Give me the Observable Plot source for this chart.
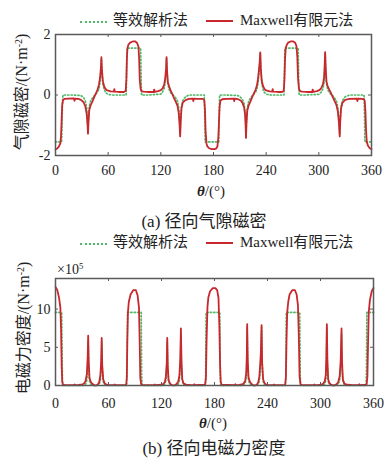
<!DOCTYPE html>
<html>
<head>
<meta charset="utf-8">
<script src="https://cdn.jsdelivr.net/npm/d3@7"></script>
<script src="https://cdn.jsdelivr.net/npm/@observablehq/plot@0.6"></script>
<style>
  html, body { margin: 0; padding: 0; background: #fff; }
  #wrap { position: relative; width: 386px; height: 462px; overflow: hidden; background: #fff;
          font-family: "Liberation Serif", "Noto Sans CJK SC", serif; color: #222; }
  .abs { position: absolute; white-space: nowrap; }
  .leg { font-size: 15px; line-height: 15px; }
  .swG { position: absolute; height: 0; border-top: 2px dotted #52b86a; }
  .swR { position: absolute; height: 0; border-top: 2.5px solid #c8282d; }
  .rot { transform: translate(-50%, -50%) rotate(-90deg); font-size: 16px; }
  .cap { transform: translate(-50%, -50%); font-size: 17px; }
  .xl { transform: translate(-50%, -50%); font-size: 15px; line-height: 15px; }
  sup { font-size: 0.62em; vertical-align: 0.55em; line-height: 0; }
</style>
</head>
<body>
<div id="wrap">
  <div id="p1" class="abs" style="left:0;top:0"></div>
  <div id="p2" class="abs" style="left:0;top:230px"></div>
</div>
<script>
// ---- Data ----
const xTicks = [0, 60, 120, 180, 240, 300, 360];
const yTicksB = [-2, 0, 2];
const yTicksF = [0, 5, 10];
const seriesNames = ["等效解析法", "Maxwell有限元法"];

// Maxwell FEM (red)
const thetaRed = [
  0, 2, 4, 5.5, 6.3, 7, 7.6, 8.5, 10, 15, 21, 21.6, 22.3, 26, 29, 32, 34, 35.5, 36.5, 37, 37.6, 38.5, 40, 42, 44,
  46, 48, 49.5, 50.8, 51.8, 52.3, 52.9, 54, 55.5, 57, 59, 63, 66.4, 67, 67.6, 72, 78, 80, 80.7, 81.3, 82, 83, 85, 88,
  91, 93, 94.5, 95.3, 96, 97, 98, 100, 105, 111.8, 112.4, 113, 117, 120, 122, 123.8, 125, 126, 126.5, 127.1, 128, 129.5, 131, 133,
  135, 137, 139, 140.3, 141.3, 142, 142.6, 143.5, 145, 148, 152, 156.4, 157, 157.6, 162, 168, 169.5, 170.3, 171, 172, 173, 175, 178,
  181, 183, 184.5, 185.5, 186.3, 187, 188, 190, 195, 203, 203.6, 204.2, 208, 211, 213, 214.8, 216, 216.6, 217, 217.6, 218.5, 220, 222, 224,
  226, 228, 229.5, 230.8, 231.8, 232.5, 233.3, 233.9, 235, 236.5, 238, 240, 244, 246.8, 247.4, 248, 253, 258, 260, 260.8, 261.5, 262.3, 263.5, 265, 268,
  271, 273, 274.5, 275.5, 276.3, 277.3, 278.5, 281, 286, 292.4, 293, 293.6, 298, 301, 303, 304.8, 306, 306.6, 307.2, 307.8, 308.7, 310, 312, 314,
  316, 318, 320, 321.7, 322.9, 323.8, 324.4, 325.3, 327, 330, 335, 343.3, 343.9, 344.5, 349, 351.5, 352.3, 353.1, 353.8, 354.6, 356, 358, 360
];
const bRed = [
  -1.80, -1.77, -1.70, -1.60, -1.35, -0.80, -0.35, -0.18, -0.13, -0.12, -0.11, -0.19, -0.12, -0.13, -0.16, -0.24, -0.38, -0.62, -0.98, -1.28, -0.88, -0.50, -0.34, -0.22, -0.08,
  0.05, 0.19, 0.34, 0.58, 0.92, 1.25, 0.82, 0.45, 0.28, 0.20, 0.15, 0.12, 0.11, 0.19, 0.11, 0.10, 0.10, 0.14, 0.50, 1.20, 1.55, 1.66, 1.73, 1.77,
  1.77, 1.72, 1.60, 1.20, 0.50, 0.20, 0.13, 0.11, 0.10, 0.10, 0.18, 0.10, 0.13, 0.16, 0.22, 0.34, 0.55, 0.88, 1.25, 0.80, 0.42, 0.28, 0.16, 0.04,
  -0.10, -0.22, -0.36, -0.58, -0.95, -1.37, -0.90, -0.45, -0.25, -0.17, -0.13, -0.12, -0.20, -0.12, -0.13, -0.13, -0.17, -0.50, -1.20, -1.60, -1.70, -1.76, -1.79,
  -1.79, -1.77, -1.70, -1.40, -0.85, -0.38, -0.18, -0.14, -0.13, -0.12, -0.20, -0.12, -0.14, -0.18, -0.26, -0.40, -0.66, -1.00, -1.42, -0.92, -0.52, -0.35, -0.22, -0.08,
  0.05, 0.18, 0.32, 0.55, 0.85, 1.05, 1.41, 0.88, 0.46, 0.29, 0.20, 0.15, 0.12, 0.11, 0.19, 0.11, 0.10, 0.10, 0.14, 0.50, 1.20, 1.55, 1.66, 1.73, 1.77,
  1.77, 1.73, 1.62, 1.25, 0.55, 0.22, 0.13, 0.11, 0.10, 0.10, 0.18, 0.10, 0.13, 0.17, 0.24, 0.37, 0.60, 0.95, 1.42, 0.90, 0.45, 0.29, 0.17, 0.05,
  -0.08, -0.20, -0.33, -0.55, -0.92, -1.37, -0.88, -0.45, -0.25, -0.16, -0.13, -0.12, -0.20, -0.12, -0.13, -0.14, -0.20, -0.55, -1.15, -1.55, -1.68, -1.76, -1.79
];
// radial electromagnetic force density, ×10^5 N·m^-2 (red)
const fRed = [
  12.9, 12.5, 11.5, 10.2, 7.3, 2.5, 0.49, 0.13, 0.07, 0.06, 0.05, 0.14, 0.06, 0.07, 0.10, 0.23, 0.57, 1.53, 3.82, 6.52, 3.08, 0.99, 0.46, 0.19, 0.03,
  0.01, 0.14, 0.46, 1.34, 3.37, 6.22, 2.68, 0.81, 0.31, 0.16, 0.09, 0.06, 0.05, 0.14, 0.05, 0.04, 0.04, 0.08, 0.99, 5.73, 9.56, 10.96, 11.91, 12.47,
  12.47, 11.77, 10.19, 5.73, 0.99, 0.16, 0.07, 0.05, 0.04, 0.04, 0.13, 0.04, 0.07, 0.10, 0.19, 0.46, 1.20, 3.08, 6.22, 2.55, 0.70, 0.31, 0.10, 0.01,
  0.04, 0.19, 0.52, 1.34, 3.59, 7.47, 3.22, 0.81, 0.25, 0.11, 0.07, 0.06, 0.16, 0.06, 0.07, 0.07, 0.11, 0.99, 5.73, 10.19, 11.50, 12.33, 12.75,
  12.75, 12.47, 11.50, 7.80, 2.87, 0.57, 0.13, 0.08, 0.07, 0.06, 0.16, 0.06, 0.08, 0.13, 0.27, 0.64, 1.73, 3.98, 8.02, 3.37, 1.08, 0.49, 0.19, 0.03,
  0.01, 0.13, 0.41, 1.20, 2.87, 4.39, 7.91, 3.08, 0.84, 0.33, 0.16, 0.09, 0.06, 0.05, 0.14, 0.05, 0.04, 0.04, 0.08, 0.99, 5.73, 9.56, 10.96, 11.91, 12.47,
  12.47, 11.91, 10.44, 6.22, 1.20, 0.19, 0.07, 0.05, 0.04, 0.04, 0.13, 0.04, 0.07, 0.11, 0.23, 0.54, 1.43, 3.59, 8.02, 3.22, 0.81, 0.33, 0.11, 0.01,
  0.03, 0.16, 0.43, 1.20, 3.37, 7.47, 3.08, 0.81, 0.25, 0.10, 0.07, 0.06, 0.16, 0.06, 0.07, 0.08, 0.16, 1.20, 5.26, 9.56, 11.23, 12.33, 12.75
];

// Equivalent analytical method (green)
const thetaGreen = [
  0, 7, 7.5, 8, 8.5, 20, 29, 32, 34, 35.5, 36.5, 37, 37.6, 38.5, 40, 42, 44,
  46, 48, 49.5, 50.8, 51.8, 52.3, 52.9, 54, 55.5, 57, 60, 65, 80.5, 81, 81.5, 88,
  97, 97.5, 98, 105, 120, 122, 123.8, 125, 126, 126.5, 127.1, 128, 129.5, 131, 133,
  135, 137, 139, 140.3, 141.3, 142, 142.6, 143.5, 145, 148, 152, 169.5, 170, 170.5, 178,
  186, 186.5, 187, 195, 208, 211, 213, 214.8, 216, 216.6, 217, 217.6, 218.5, 220, 222, 224,
  226, 228, 229.5, 230.8, 231.8, 232.5, 233.3, 233.9, 235, 236.5, 238, 241, 246, 260.3, 260.8, 261.3, 268,
  276.5, 277, 277.5, 285, 300, 303, 304.8, 306, 306.6, 307.2, 307.8, 308.7, 310, 312, 314,
  316, 318, 320, 321.7, 322.9, 323.8, 324.4, 325.3, 327, 330, 335, 351.5, 352, 352.5, 360
];
const bGreen = [
  -1.55, -1.55, -0.9, -0.2, 0, 0, -0.02, -0.08, -0.2, -0.42, -0.8, -1.22, -0.75, -0.38, -0.2, -0.1, -0.03,
  0.03, 0.1, 0.2, 0.42, 0.8, 1.2, 0.75, 0.36, 0.18, 0.08, 0.02, 0, 0, 0.6, 1.55, 1.55,
  1.55, 0.6, 0, 0, 0.03, 0.1, 0.22, 0.42, 0.8, 1.2, 0.75, 0.36, 0.18, 0.08, 0.02,
  -0.03, -0.1, -0.2, -0.42, -0.8, -1.3, -0.8, -0.38, -0.18, -0.06, 0, 0, -0.6, -1.55, -1.55,
  -1.55, -0.6, 0, 0, -0.02, -0.08, -0.15, -0.28, -0.55, -0.9, -1.38, -0.85, -0.42, -0.22, -0.1, -0.03,
  0.03, 0.1, 0.2, 0.4, 0.7, 0.95, 1.38, 0.85, 0.38, 0.18, 0.08, 0.02, 0, 0, 0.6, 1.55, 1.55,
  1.55, 0.6, 0, 0, 0.02, 0.1, 0.22, 0.42, 0.8, 1.38, 0.82, 0.38, 0.18, 0.08, 0.02,
  -0.03, -0.1, -0.2, -0.42, -0.8, -1.3, -0.8, -0.38, -0.18, -0.06, 0, 0, -0.6, -1.55, -1.55
];
const fGreen = [
  9.56, 9.56, 3.22, 0.16, 0, 0, 0, 0.03, 0.16, 0.70, 2.55, 5.92, 2.24, 0.57, 0.16, 0.04, 0,
  0, 0.04, 0.16, 0.70, 2.55, 5.73, 2.24, 0.52, 0.13, 0.03, 0, 0, 0, 1.43, 9.56, 9.56,
  9.56, 1.43, 0, 0, 0, 0.04, 0.19, 0.70, 2.55, 5.73, 2.24, 0.52, 0.13, 0.03, 0,
  0, 0.04, 0.16, 0.70, 2.55, 6.72, 2.55, 0.57, 0.13, 0.01, 0, 0, 1.43, 9.56, 9.56,
  9.56, 1.43, 0, 0, 0, 0.03, 0.09, 0.31, 1.20, 3.22, 7.58, 2.87, 0.70, 0.19, 0.04, 0,
  0, 0.04, 0.16, 0.64, 1.95, 3.59, 7.58, 2.87, 0.57, 0.13, 0.03, 0, 0, 0, 1.43, 9.56, 9.56,
  9.56, 1.43, 0, 0, 0, 0.04, 0.19, 0.70, 2.55, 7.58, 2.68, 0.57, 0.13, 0.03, 0,
  0, 0.04, 0.16, 0.70, 2.55, 6.72, 2.55, 0.57, 0.13, 0.01, 0, 0, 1.43, 9.56, 9.56
];

// ---- Build ----
const RED = "#c8282d", GREEN = "#52b86a", FRAME = "#5a5a5a";
const red = thetaRed.map((t, i) => ({t, b: bRed[i], f: fRed[i]}));
const green = thetaGreen.map((t, i) => ({t, b: bGreen[i], f: fGreen[i]}));
const font = {fontFamily: '"Liberation Serif", "Noto Sans CJK SC", serif', fontSize: "14px", color: "#222", background: "transparent", overflow: "visible"};

function chart({height, mt, mb, mr, yDomain, yTicks, key, padX}) {
  const fw = 386 - 55 - mr, fh = height - mt - mb, tl = 3;
  return Plot.plot({
    width: 386, height, marginLeft: 55, marginRight: mr, marginTop: mt, marginBottom: mb,
    style: font,
    x: {domain: [0, 360]},
    y: {domain: yDomain},
    marks: [
      Plot.line(green, {x: "t", y: key, stroke: GREEN, strokeWidth: 1.7, strokeDasharray: "1.2,2.2", strokeLinecap: "round"}),
      Plot.line(red, {x: "t", y: key, stroke: RED, strokeWidth: 1.8}),
      Plot.tickX(xTicks, {x: d => d, stroke: FRAME, insetTop: fh - tl}),
      Plot.tickX(xTicks, {x: d => d, stroke: FRAME, insetBottom: fh - tl}),
      Plot.tickY(yTicks, {y: d => d, stroke: FRAME, insetRight: fw - tl}),
      Plot.tickY(yTicks, {y: d => d, stroke: FRAME, insetLeft: fw - tl}),
      Plot.frame({stroke: FRAME, strokeWidth: 1.5}),
      Plot.axisX({ticks: xTicks, tickSize: 0, tickPadding: padX, label: null, tickFormat: d => String(d)}),
      Plot.axisY({ticks: yTicks, tickSize: 0, tickPadding: 5, label: null, tickFormat: d => String(d)})
    ]
  });
}

document.getElementById("p1").appendChild(chart({height: 200, mt: 34, mb: 45, mr: 15, yDomain: [-2, 2], yTicks: yTicksB, key: "b", padX: 10}));
document.getElementById("p2").appendChild(chart({height: 232, mt: 48, mb: 77, mr: 13, yDomain: [0, 14], yTicks: yTicksF, key: "f", padX: 13}));

// ---- Text: legends, labels, captions ----
const wrap = document.getElementById("wrap");
function add(html, style, cls) {
  const d = document.createElement("div");
  d.className = "abs " + (cls || "");
  d.setAttribute("style", style);
  d.innerHTML = html;
  wrap.appendChild(d);
}
function legend(y) {
  add("", `left:80px;top:${y}px;width:27px;`, "swG");
  add(seriesNames[0], `left:113px;top:${y - 8}px;`, "leg");
  add("", `left:206px;top:${y - 1}px;width:27px;`, "swR");
  add(seriesNames[1], `left:240px;top:${y - 8}px;`, "leg");
}
legend(21);
legend(243);
add('气隙磁密/(N·m<sup>-2</sup>)', "left:20px;top:92px;", "rot");
add('电磁力密度/(N·m<sup>-2</sup>)', "left:22px;top:328px;", "rot");
add('<b><i>θ</i></b>/(°)', "left:211px;top:191px;", "xl");
add('<b><i>θ</i></b>/(°)', "left:213px;top:423px;", "xl");
add('(a) 径向气隙磁密', "left:204px;top:219px;", "cap");
add('(b) 径向电磁力密度', "left:214px;top:446px;", "cap");
add('×10<sup>5</sup>', "left:57px;top:262px;font-size:14px;", "");
</script>
</body>
</html>
